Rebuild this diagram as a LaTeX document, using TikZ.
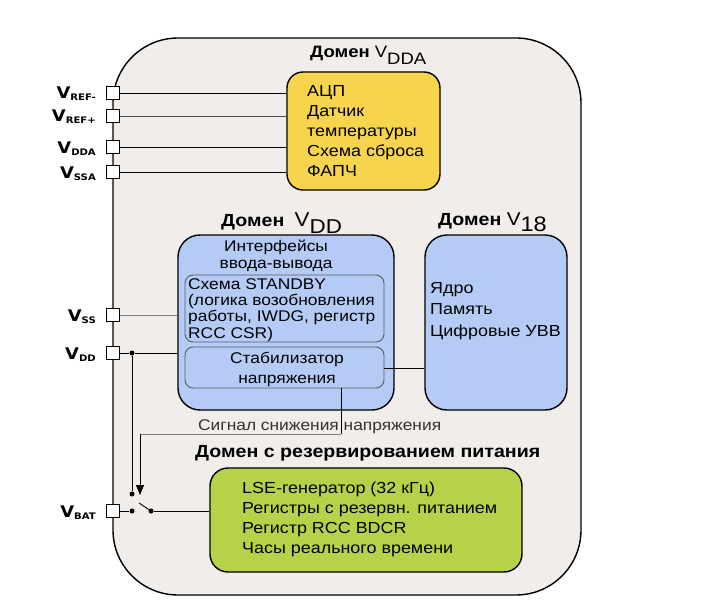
\documentclass[tikz,border=0pt]{standalone}
\usepackage{fontspec}
\setmainfont{Liberation Sans}[FakeStretch=1.12]
\newfontfamily\pinfont{DejaVu Sans}[FakeStretch=1.12]
\usetikzlibrary{arrows.meta}
\definecolor{bgfill}{HTML}{F0EDEA}
\definecolor{yelfill}{HTML}{F7D44E}
\definecolor{bluefill}{HTML}{B4CCF5}
\definecolor{greenfill}{HTML}{B6D248}
\definecolor{sgray}{HTML}{5A5A5A}
\newcommand{\pinlbl}[1]{\pinfont\bfseries\fontsize{16}{16}\selectfont V\raisebox{-2pt}{\fontsize{9}{10}\selectfont #1}}
\begin{document}
\begin{tikzpicture}[x=1pt,y=-1pt,
  box/.style={draw=black,line width=1.4pt,rounded corners=#1,inner sep=0pt},
  pinbox/.style={draw=black,line width=1.8pt,fill=white,minimum size=13pt,inner sep=0pt},
  ibox/.style={draw=sgray,line width=0.9pt,rounded corners=8pt,inner sep=0pt},
  txt/.style={font=\fontsize{16}{20}\selectfont,align=left,inner sep=0pt},
  stxt/.style={font=\fontsize{15.5}{16.4}\selectfont,align=left,inner sep=0pt},
  dtitle/.style={font=\fontsize{16.5}{18}\selectfont,inner sep=0pt},
  plabel/.style={anchor=east,inner sep=0pt},
  wire/.style={line width=0.9pt},
  gwire/.style={line width=0.8pt,draw=gray},
  dot/.style={circle,fill=black,minimum size=5pt,inner sep=0pt}]
\useasboundingbox (0,0) rectangle (716,602);
\fill[white] (0,0) rectangle (716,602);
% outer domain
\node[box=65pt,fill=bgfill,minimum width=468pt,minimum height=557pt] (outer) at (347,316.5) {};
% titles
\node[dtitle,anchor=base west] (tdda) at (310,58) {\textbf{Домен} V\raisebox{-7pt}{DDA}};
\node[dtitle,anchor=base west,font=\fontsize{17.5}{18}\selectfont] (tdd) at (221,226) {\textbf{Домен}\; {\fontsize{20}{20}\selectfont V\raisebox{-7pt}{DD}}};
\node[dtitle,anchor=base west,font=\fontsize{17.5}{18}\selectfont] (t18) at (438,225) {\textbf{Домен} {\fontsize{18.5}{20}\selectfont V}\raisebox{-6pt}{\fontsize{21}{22}\selectfont 18}};
\node[font=\fontsize{17.5}{18}\selectfont\bfseries,anchor=base west,inner sep=0pt] (tbak) at (195,457) {Домен с резервированием питания};
% yellow
\node[box=16pt,fill=yelfill,minimum width=153pt,minimum height=118pt] (yel) at (363.5,131) {};
\node[txt,anchor=north west] (yeltxt) at (307,85) {АЦП\\Датчик\\температуры\\Схема сброса\\ФАПЧ};
% VDD domain
\node[box=22pt,fill=bluefill,minimum width=216pt,minimum height=175pt] (vdd) at (286,322.5) {};
\node[stxt,align=center,anchor=north,font=\fontsize{15.5}{17}\selectfont] (io) at (276,240) {Интерфейсы\\ввода-вывода};
\node[ibox,minimum width=199pt,minimum height=67pt] (stby) at (284.5,308.5) {};
\node[stxt,anchor=north west] (stbytxt) at (188,278) {Схема STANDBY\\(логика возобновления\\работы, IWDG, регистр\\RCC CSR)};
\node[ibox,minimum width=199pt,minimum height=41pt] (stab) at (284.5,367.5) {};
\node[stxt,align=center,anchor=north,font=\fontsize{15.5}{20}\selectfont] (stabtxt) at (287,352) {Стабилизатор\\напряжения};
% V18 domain
\node[box=22pt,fill=bluefill,minimum width=142pt,minimum height=175pt] (v18) at (496,322.5) {};
\node[txt,anchor=north west,font=\fontsize{16}{21.5}\selectfont] (v18txt) at (430,282) {Ядро\\Память\\Цифровые УВВ};
% backup domain
\node[box=18pt,fill=greenfill,minimum width=312pt,minimum height=104pt] (grn) at (366,520) {};
\node[txt,anchor=north west] (grntxt) at (242,482) {LSE-генератор (32 кГц)\\Регистры с резервн. питанием\\Регистр RCC BDCR\\Часы реального времени};
% signal text
\node[font=\fontsize{15.5}{16}\selectfont,text=black!80,anchor=base west,inner sep=0pt] (sig) at (198,430) {Сигнал снижения напряжения};
% pins
\foreach \n/\y in {rm/93,rp/116,dda/147,ssa/172,ss/315,pdd/353,bat/511}{
  \node[pinbox] (p\n) at (113,\y) {};
}
\node[plabel] (lrm) at (96,94) {\pinlbl{REF-}};
\node[plabel] (lrp) at (96,117) {\pinlbl{REF+}};
\node[plabel] (ldda) at (96,149) {\pinlbl{DDA}};
\node[plabel] (lssa) at (96,174) {\pinlbl{SSA}};
\node[plabel] (lss) at (96,317) {\pinlbl{SS}};
\node[plabel] (ldd) at (96,355) {\pinlbl{DD}};
\node[plabel] (lbat) at (96,513) {\pinlbl{BAT}};
% wires to yellow
\draw[wire] (prm.east) -- (prm.east -| yel.west);
\draw[wire,draw=black!70] (prp.east) -- (prp.east -| yel.west);
\draw[wire] (pdda.east) -- (pdda.east -| yel.west);
\draw[wire] (pssa.east) -- (pssa.east -| yel.west);
% VSS, VDD
\draw[gwire] (pss.east) -- (pss.east -| vdd.west);
\node[dot] (d1) at (132,353) {};
\draw[wire] (ppdd.east) -- (d1) -- (d1 -| vdd.west);
% stabilizer to V18
\draw[wire] (stab.east |- 0,368) coordinate (se) -- (se -| v18.west);
% switch
\node[dot] (ca) at (132,494) {};
\node[dot] (cb) at (132,511) {};
\node[dot] (cc) at (151,511) {};
\coordinate (lev) at (139,503);
\draw[wire] (d1) -- (ca);
\draw[wire] (pbat.east) -- (cb);
\draw[wire] (cc) -- (lev);
\draw[wire] (cc) -- (cc -| grn.west);
% power-down signal
\coordinate (s0) at (341,388);
\coordinate (s1) at (341,434);
\coordinate (s2) at (140,434);
\coordinate (s3) at (140,495);
\draw[wire] (s0) -- (s1);
\draw[gwire] (s1) -- (s2);
\draw[wire,-{Triangle[length=10pt,width=8pt]}] (s2) -- (s3);
\end{tikzpicture}
\end{document}
